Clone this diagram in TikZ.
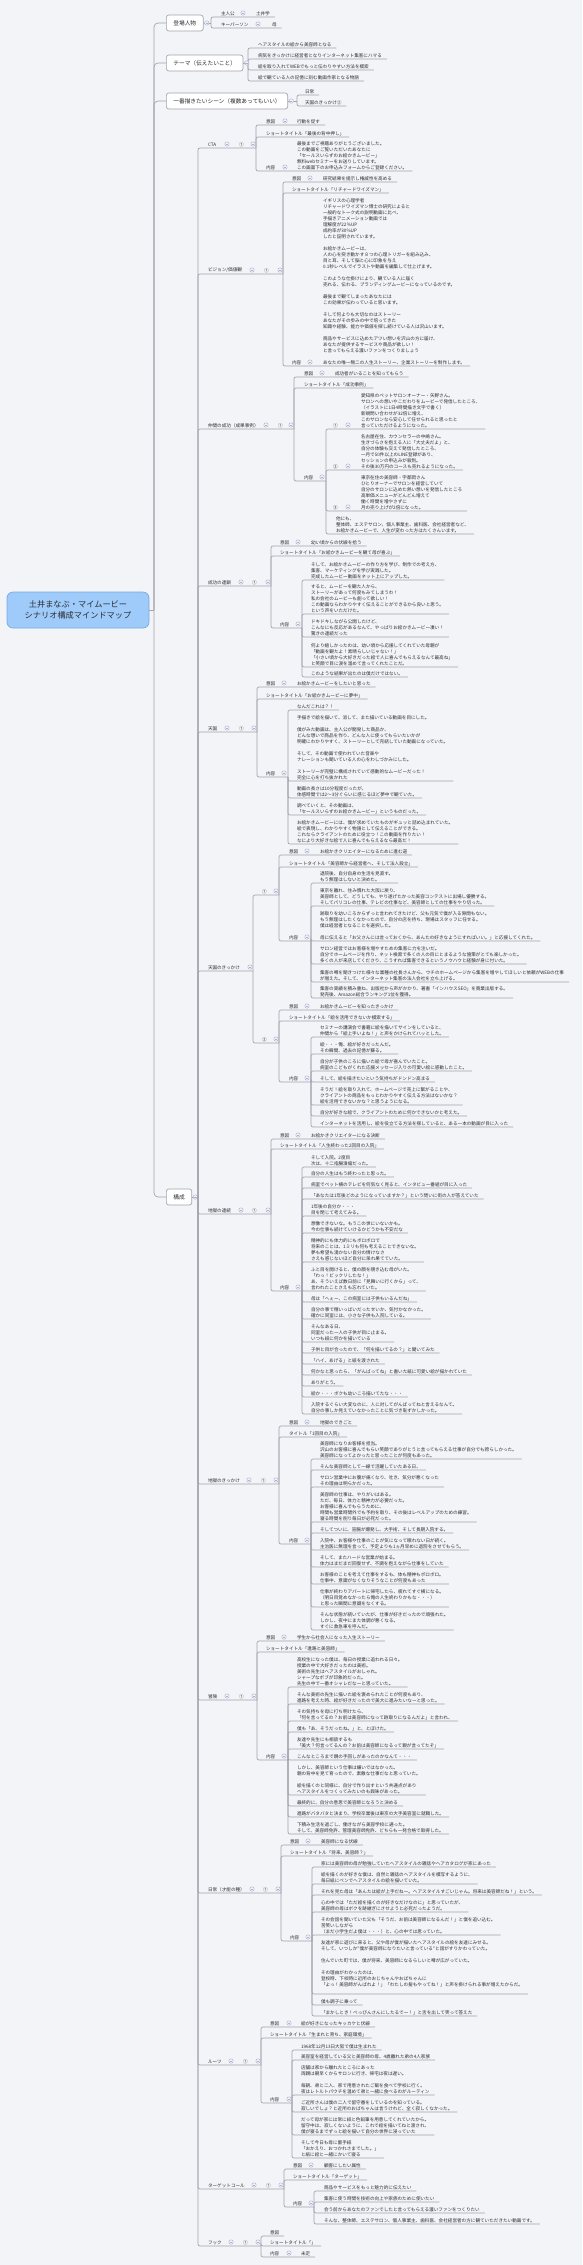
\documentclass[tikz,border=0pt]{standalone}
\usepackage{fontspec}
\setmainfont{Noto Sans CJK JP}
\usetikzlibrary{positioning}
\definecolor{bgc}{RGB}{243,244,248}
\definecolor{linec}{RGB}{163,164,174}
\definecolor{rootc}{RGB}{158,203,250}
\definecolor{rootb}{RGB}{120,168,222}
\definecolor{foldc}{RGB}{168,180,208}
\definecolor{textc}{RGB}{45,45,50}

\begin{document}
\begin{tikzpicture}[x=1pt, y=-1pt,
    txt/.style={font=\fontsize{4.6}{6}\selectfont, text=textc, inner sep=0pt, outer xsep=5pt, outer ysep=1.5pt, anchor=south west, xshift=-5pt, align=left},
    box/.style={draw=linec, fill=white, rounded corners=2.5pt, line width=0.7pt, font=\fontsize{5.7}{7}\selectfont, text=textc, inner xsep=7pt, inner ysep=0pt, minimum height=16pt, anchor=west},
    root/.style={draw=rootb, fill=rootc, rounded corners=6pt, line width=0.7pt, font=\fontsize{8.2}{11}\selectfont, text=textc, align=center, minimum width=142pt, minimum height=36pt},
    link/.style={draw=linec, line width=0.7pt, rounded corners=2pt},
    fold/.style={circle, draw=foldc, fill=bgc, line width=0.45pt, minimum size=4.4pt, inner sep=0pt, path picture={\draw[foldc, line width=0.45pt] ([xshift=-1.2pt]path picture bounding box.center) -- ([xshift=1.2pt]path picture bounding box.center);}},
    lfold/.style={fold, yshift=4pt}]
    \useasboundingbox (0,0) rectangle (582,2265);
    \fill[bgc] (0,0) rectangle (582,2265);

    % Root and first level
    \node[root] (root) at (78,610) {土井まなぶ・マイムービー\\シナリオ構成マインドマップ};
    \node[box] (cast) at (166,23) {登場人物};
    \node[box] (theme) at (166,63) {テーマ（伝えたいこと）};
    \node[box] (scene) at (166,101) {一番描きたいシーン（複数あってもいい）};
    \node[box] (kosei) at (166,1197) {構成};
    \coordinate (hub) at (154,610);
    \draw[link] (root.east) -- (hub);
    \foreach \x in {cast,theme,scene,kosei} \draw[link, rounded corners=4pt] (hub) |- (\x.west);

    % 登場人物
    \node[txt] (hero) at (221,17) {主人公};
    \node[txt] (doi) at (256,17) {土井学};
    \node[txt] (key) at (221,28) {キーパーソン};
    \node[txt] (mother) at (272,28) {母};
    \coordinate (jcast) at (211,23);
    \draw[link] (cast.east) -- (jcast);
    \foreach \x in {doi,mother} \draw[link] (jcast) |- (\x.south east);
    \node[fold, right=0.8pt of cast] (cast-f) {};
    \node[lfold] (hero-f) at (243,17) {};
    \node[lfold] (key-f) at (258,28) {};

    % テーマ
    \node[txt] (t1) at (258,48) {ヘアスタイルの絵から美容師となる};
    \node[txt] (t2) at (258,59) {病気をきっかけに経営者となりインターネット集客にハマる};
    \node[txt] (t3) at (258,70) {絵を取り入れてWEBでもっと伝わりやすい方法を模索};
    \node[txt] (t4) at (258,81) {絵で観ている人の記憶に刻む動画作家となる物語};
    \coordinate (jtheme) at (248,63);
    \draw[link] (theme.east) -- (jtheme);
    \foreach \x in {t1,t2,t3,t4} \draw[link] (jtheme) |- (\x.south east);
    \node[fold, right=0.8pt of theme] (theme-f) {};

    % 一番描きたいシーン
    \node[txt] (s1) at (305,95) {日常};
    \node[txt] (s2) at (305,106) {天国のきっかけ②};
    \coordinate (jscene) at (297,101);
    \draw[link] (scene.east) -- (jscene);
    \foreach \x in {s1,s2} \draw[link] (jscene) |- (\x.south east);
    \node[fold, right=0.8pt of scene] (scene-f) {};

    % 構成
    \coordinate (jk) at (198,1197);
    \draw[link] (kosei.east) -- (jk);
    \node[fold, right=0.8pt of kosei] (kosei-f) {};

    % CTA
    \node[txt] (cta) at (208,148) {CTA};
    \node[txt] (cta-n) at (239,148) {①};
    \node[txt] (cta-i) at (266,125) {意図};
    \node[txt] (cta-iv) at (297,125) {行動を促す};
    \node[txt] (cta-s) at (266,137) {ショートタイトル「最後の背中押し」};
    \node[txt] (cta-c) at (266,171) {内容};
    \node[txt] (cta-cv) at (297,171) {最後までご視聴ありがとうございました。\\この動画をご覧いただいたあなたに\\「セールスいらずのお絵かきムービー」\\無料webセミナーをお送りしています。\\この画面下のお申込みフォームからご登録ください。};
    \coordinate (jcta) at (256,148);
    \draw[link] (jk) |- (jcta);
    \foreach \x in {cta-iv,cta-s,cta-cv} \draw[link] (jcta) |- (\x.south east);
    \node[lfold] (cta-f1) at (227,148) {};
    \node[lfold] (cta-f2) at (253,148) {};
    \node[lfold] (cta-f3) at (285,125) {};
    \node[lfold] (cta-f4) at (285,171) {};

    % ビジョン/価値観
    \node[txt] (vis) at (208,274) {ビジョン/価値観};
    \node[txt] (vis-n) at (264,274) {①};
    \node[txt] (vis-i) at (292,182) {意図};
    \node[txt] (vis-iv) at (323,182) {研究結果を提示し権威性を高める};
    \node[txt] (vis-s) at (292,193) {ショートタイトル「リチャードワイズマン」};
    \node[txt] (vis-c) at (292,366) {内容};
    \node[txt] (vis-cv) at (323,366) {イギリスの心理学者\\リチャードワイズマン博士の研究によると\\一般的なトーク式の説明動画に比べ、\\手描きアニメーション動画では\\理解度が22％UP\\成約率が30\%UP\\したと証明されています。\\[6pt]お絵かきムービーは、\\人の心を突き動かす８つの心理トリガーを組み込み、\\目と耳、そして脳と心に印象を与え\\0.1秒レベルでイラストや動画を編集して仕上げます。\\[6pt]このような仕掛けにより、観ている人に届く\\売れる、伝わる、ブランディングムービーになっているのです。\\[6pt]最後まで観てしまったあなたには\\この効果が伝わっていると思います。\\[6pt]そして何よりも大切なのはストーリー\\あなたがその歩みの中で培ってきた\\知識や経験、能力や価値を探し続けている人は沢山います。\\[6pt]商品やサービスに込めたアツい想いを沢山の方に届け、\\あなたが提供するサービスや商品が欲しい！\\と言ってもらえる濃いファンをつくりましょう\\[6pt]あなたの唯一無二の人生ストーリー、企業ストーリーを制作します。};
    \coordinate (jvis) at (283,274);
    \draw[link] (jk) |- (jvis);
    \foreach \x in {vis-iv,vis-s,vis-cv} \draw[link] (jvis) |- (\x.south east);
    \node[lfold] (vis-f1) at (252,274) {};
    \node[lfold] (vis-f2) at (280,274) {};
    \node[lfold] (vis-f3) at (310,182) {};
    \node[lfold] (vis-f4) at (310,366) {};

    % 仲間の成功
    \node[txt] (peer) at (208,429) {仲間の成功（成果事例）};
    \node[txt] (peer-n) at (278,429) {①};
    \node[txt] (peer-i) at (304,377) {意図};
    \node[txt] (peer-iv) at (335,377) {成功者がいることを知ってもらう};
    \node[txt] (peer-s) at (304,388) {ショートタイトル「成功事例」};
    \node[txt] (peer-c) at (304,481) {内容};
    \node[txt] (peer-1) at (333,429) {①};
    \node[txt] (peer-1v) at (361,429) {愛知県のペットサロンオーナー・矢野さん。\\サロンへの想いやこだわりをムービーで発信したところ、\\（イラストに1日4時間描き文字で書く）\\新規問い合わせが32倍に増え、\\このサロンなら安心して任せられると思ったと\\言っていただけるようになった。};
    \node[txt] (peer-2) at (333,470) {②};
    \node[txt] (peer-2v) at (361,470) {名古屋在住、カウンセラーの中嶋さん。\\生きづらさを抱える人に「大丈夫だよ」と、\\自分の体験も交えて発信したところ、\\一月で50件以上のLINE登録があり、\\セッションの申込みが殺到。\\その後30万円のコースも売れるようになった。};
    \node[txt] (peer-3) at (333,511) {③};
    \node[txt] (peer-3v) at (361,511) {東京在住の美容師・宇都岡さん\\ひとりオーナーでサロンを経営していて\\自分のサロンに込めた熱い想いを発信したところ\\高単価メニューがどんどん増えて\\働く時間を増やさずに\\月の売り上げが2倍になった。};
    \node[txt] (peer-4) at (336,534) {他にも、\\整体師、エステサロン、個人事業主、歯科医、会社経営者など、\\お絵かきムービーで、人生が変わった方はたくさんいます。};
    \coordinate (jpeer) at (294,429);
    \coordinate (jpeerc) at (326,481);
    \draw[link] (jk) |- (jpeer);
    \foreach \x in {peer-iv,peer-s} \draw[link] (jpeer) |- (\x.south east);
    \draw[link] (jpeer) |- (jpeerc);
    \foreach \x in {peer-1v,peer-2v,peer-3v,peer-4} \draw[link] (jpeerc) |- (\x.south east);
    \node[lfold] (peer-f1) at (266,429) {};
    \node[lfold] (peer-f2) at (291,429) {};
    \node[lfold] (peer-f3) at (322,377) {};
    \node[lfold] (peer-f4) at (322,481) {};
    \node[lfold] (peer-f5) at (348,429) {};
    \node[lfold] (peer-f6) at (348,470) {};
    \node[lfold] (peer-f7) at (348,511) {};

    % 成功の連鎖
    \node[txt] (chain) at (208,586) {成功の連鎖};
    \node[txt] (chain-n) at (252,586) {①};
    \node[txt] (chain-i) at (280,546) {意図};
    \node[txt] (chain-iv) at (311,546) {幼い頃からの伏線を拾う};
    \node[txt] (chain-s) at (280,556) {ショートタイトル「お絵かきムービーを観て母が喜ぶ」};
    \node[txt] (chain-c) at (280,628) {内容};
    \node[txt] (chain-1) at (311,580) {そして、お絵かきムービーの作り方を学び、制作での考え方、\\集客、マーケティングを学び実践した。\\完成したムービー動画をネット上にアップした。};
    \node[txt] (chain-2) at (311,614) {すると、ムービーを観た人から、\\ストーリーがあって何度もみてしまうわ！\\私の会社のムービーも創って欲しい！\\この動画ならわかりやすく伝えることができるから良いと思う。\\という声をいただけた。};
    \node[txt] (chain-3) at (311,637) {ドキドキしながら公開したけど、\\こんなにも反応があるなんて、やっぱりお絵かきムービー凄い！\\驚きの連続だった};
    \node[txt] (chain-4) at (311,667) {何より嬉しかったのは、幼い頃から応援してくれていた母親が\\「動画を観たよ！素晴らしいじゃない！」\\「小さい頃から大好きだった絵で人に喜んでもらえるなんて最高ね」\\と笑顔で目に涙を溜めて言ってくれたことだ。};
    \node[txt] (chain-5) at (311,677) {このような結果が出たのは僕だけではない。};
    \coordinate (jchain) at (271,586);
    \coordinate (jchainc) at (302,628);
    \draw[link] (jk) |- (jchain);
    \foreach \x in {chain-iv,chain-s} \draw[link] (jchain) |- (\x.south east);
    \draw[link] (jchain) |- (jchainc);
    \foreach \x in {chain-1,chain-2,chain-3,chain-4,chain-5} \draw[link] (jchainc) |- (\x.south east);
    \node[lfold] (chain-f1) at (241,586) {};
    \node[lfold] (chain-f2) at (268,586) {};
    \node[lfold] (chain-f3) at (298,546) {};
    \node[lfold] (chain-f4) at (298,628) {};

    % 天国
    \node[txt] (heaven) at (208,732) {天国};
    \node[txt] (hv-n) at (239,732) {①};
    \node[txt] (hv-i) at (266,687) {意図};
    \node[txt] (hv-iv) at (297,687) {お絵かきムービーをしたいと思った};
    \node[txt] (hv-s) at (266,699) {ショートタイトル「お絵かきムービーに夢中」};
    \node[txt] (hv-c) at (266,777) {内容};
    \node[txt] (hv-1) at (297,710) {なんだこれは？！};
    \node[txt] (hv-2) at (297,781) {手描きで絵を描いて、消して、また描いている動画を目にした。\\[6pt]僕がみた動画は、主人公が開発した商品か、\\どんな想いで商品を作り、どんな人に使ってもらいたいかが\\明確にわかりやすく、ストーリーとして完結していた動画になっていた。\\[6pt]そして、その動画で使われていた音楽や\\ナレーションも聞いている人の心をわしづかみにした。\\[6pt]ストーリーが完璧に構成されていて感動的なムービーだった！\\完全に心を打ち抜かれた};
    \node[txt] (hv-3) at (297,798) {動画の長さは10分程度だったが、\\体感時間では2〜3分ぐらいに感じるほど夢中で観ていた。};
    \node[txt] (hv-4) at (297,815) {調べていくと、その動画は、\\「セールスいらずのお絵かきムービー」というものだった。};
    \node[txt] (hv-5) at (297,844) {お絵かきムービーには、僕が求めていたものがギュッと詰め込まれていた。\\絵で表現し、わかりやすく物語として伝えることができる。\\これならクライアントのために役立つ！この動画を作りたい！\\なにより大好きな絵で人に喜んでもらえるなら最高だ！};
    \coordinate (jheaven) at (257,732);
    \coordinate (jhvc) at (288,777);
    \draw[link] (jk) |- (jheaven);
    \foreach \x in {hv-iv,hv-s} \draw[link] (jheaven) |- (\x.south east);
    \draw[link] (jheaven) |- (jhvc);
    \foreach \x in {hv-1,hv-2,hv-3,hv-4,hv-5} \draw[link] (jhvc) |- (\x.south east);
    \node[lfold] (hv-f1) at (227,732) {};
    \node[lfold] (hv-f2) at (254,732) {};
    \node[lfold] (hv-f3) at (284,687) {};
    \node[lfold] (hv-f4) at (284,777) {};

    % 天国のきっかけ
    \node[txt] (hvk) at (208,971) {天国のきっかけ};
    \node[txt] (hvk1) at (262,895) {①};
    \node[txt] (hvk1-i) at (289,855) {意図};
    \node[txt] (hvk1-iv) at (320,855) {お絵かきクリエイターになるために進む道};
    \node[txt] (hvk1-s) at (289,867) {ショートタイトル「美容師から経営者へ、そして法人設立」};
    \node[txt] (hvk1-c) at (289,941) {内容};
    \node[txt] (hvk1-1) at (320,883) {退院後、自分自身の生活を見直す。\\もう無理はしないと決めた。};
    \node[txt] (hvk1-2) at (320,906) {東京を離れ、住み慣れた大阪に戻り、\\美容師として、どうしても、やり遂げたかった美容コンテストに出場し優勝する。\\そしてパリコレの仕事、テレビの仕事など、美容師としての仕事をやり切った。};
    \node[txt] (hvk1-3) at (320,941) {跡取りを幼いころからずっと言われてきたけど、父も元気で僕が入る隙間もない。\\もう無理はしたくなかったので、自分の店を持ち、現場はスタッフに任せる。\\僕は経営者となることを選択した。\\[6pt]母に伝えると「お父さんには言っておくから、あんたの好きなようにすればいい。」と応援してくれた。};
    \node[txt] (hvk1-4) at (320,964) {サロン経営ではお客様を増やすための集客に力を注いだ。\\自分でホームページを作り、ネット検索で多くの人の目にとまるような施策がとても楽しかった。\\多くの人が来店してくださり、こうすれば集客できるというノウハウと経験が身に付いた。};
    \node[txt] (hvk1-5) at (320,982) {集客の噂を聞きつけた様々な業種の社長さんから、ウチのホームページから集客を増やしてほしいと依頼がWEBの仕事\\が増えた。そして、インターネット集客の法人会社を立ち上げる。};
    \node[txt] (hvk1-6) at (320,998) {集客の実績を積み重ね、出版社から声がかかり、著書「インハウスSEO」を商業出版する。\\発売後、Amazon総合ランキング1位を獲得。};
    \node[txt] (hvk2) at (262,1043) {②};
    \node[txt] (hvk2-i) at (289,1010) {意図};
    \node[txt] (hvk2-iv) at (320,1010) {お絵かきムービーを知ったきっかけ};
    \node[txt] (hvk2-s) at (289,1021) {ショートタイトル「絵を活用できないか模索する」};
    \node[txt] (hvk2-c) at (289,1082) {内容};
    \node[txt] (hvk2-1) at (320,1037) {セミナーの講演会で書籍に絵を描いてサインをしていると、\\仲間から「絵上手いよね！」と声をかけられてハッとした。};
    \node[txt] (hvk2-2) at (320,1054) {絵・・・俺、絵が好きだったんだ。\\その瞬間、過去の記憶が蘇る。};
    \node[txt] (hvk2-3) at (320,1071) {自分が子供のころに描いた絵で母が喜んでいたこと。\\病室のこどもがくれた応援メッセージ入りの可愛い絵に感動したこと。};
    \node[txt] (hvk2-4) at (320,1082) {そして、絵を描きたいという気持ちがドンドン高まる};
    \node[txt] (hvk2-5) at (320,1105) {そうだ！絵を取り入れて、ホームページで売上に繋がることや、\\クライアントの商品をもっとわかりやすく伝える方法はないかな？\\絵を活用できないかな？と思うようになる。};
    \node[txt] (hvk2-6) at (320,1116) {自分が好きな絵で、クライアントのために何かできないかと考えた。};
    \node[txt] (hvk2-7) at (320,1127) {インターネットを活用し、絵を役立てる方法を探していると、ある一本の動画が目に入った};
    \coordinate (jhvk) at (253,971);
    \coordinate (jhvk1) at (279,895);
    \coordinate (jhvk1c) at (311,941);
    \coordinate (jhvk2) at (279,1043);
    \coordinate (jhvk2c) at (311,1082);
    \draw[link] (jk) |- (jhvk);
    \draw[link] (jhvk) |- (jhvk1);
    \draw[link] (jhvk) |- (jhvk2);
    \foreach \x in {hvk1-iv,hvk1-s} \draw[link] (jhvk1) |- (\x.south east);
    \draw[link] (jhvk1) |- (jhvk1c);
    \foreach \x in {hvk1-1,hvk1-2,hvk1-3,hvk1-4,hvk1-5,hvk1-6} \draw[link] (jhvk1c) |- (\x.south east);
    \foreach \x in {hvk2-iv,hvk2-s} \draw[link] (jhvk2) |- (\x.south east);
    \draw[link] (jhvk2) |- (jhvk2c);
    \foreach \x in {hvk2-1,hvk2-2,hvk2-3,hvk2-4,hvk2-5,hvk2-6,hvk2-7} \draw[link] (jhvk2c) |- (\x.south east);
    \node[lfold] (hvk-f1) at (250,971) {};
    \node[lfold] (hvk-f2) at (276,895) {};
    \node[lfold] (hvk-f3) at (307,855) {};
    \node[lfold] (hvk-f4) at (307,941) {};
    \node[lfold] (hvk-f5) at (276,1043) {};
    \node[lfold] (hvk-f6) at (307,1010) {};
    \node[lfold] (hvk-f7) at (307,1082) {};

    % 地獄の連続
    \node[txt] (hell) at (208,1214) {地獄の連続};
    \node[txt] (hl-n) at (252,1214) {①};
    \node[txt] (hl-i) at (280,1139) {意図};
    \node[txt] (hl-iv) at (311,1139) {お絵かきクリエイターになる決断};
    \node[txt] (hl-s) at (280,1149) {ショートタイトル「人生終わった2回目の入院」};
    \node[txt] (hl-c) at (280,1291) {内容};
    \node[txt] (hl-1) at (311,1167) {そして入院。2度目\\次は、十二指腸潰瘍だった。};
    \node[txt] (hl-2) at (311,1177) {自分の人生はもう終わったと思った。};
    \node[txt] (hl-3) at (311,1188) {病室でベット横のテレビを何気なく見ると、インタビュー番組が目に入った};
    \node[txt] (hl-4) at (311,1199) {「あなたは1年後どのようになっていますか？」という問いに街の人が答えていた};
    \node[txt] (hl-5) at (311,1216) {1年後の自分か・・・\\目を閉じて考えてみる。};
    \node[txt] (hl-6) at (311,1233) {想像できないな。もうこの世にいないかも。\\今の仕事も続けていけるかどうかも不安だな};
    \node[txt] (hl-7) at (311,1262) {精神的にも体力的にもボロボロで\\将来のことは、1ミリも何も考えることできないな。\\夢も希望も湧かない自分の情けなさ\\さえも感じないほど自分に呆れ果てていた。};
    \node[txt] (hl-8) at (311,1291) {ふと目を開けると、僕の顔を覗き込む母がいた。\\「わっ！ビックリしたな！」\\あ、そういえば数日前に「見舞いに行くから」って、\\言われたことさえも忘れていた。};
    \node[txt] (hl-9) at (311,1302) {母は「へぇー、この病室には子供もいるんだね」};
    \node[txt] (hl-10) at (311,1319) {自分の事で精いっぱいだったせいか、気付かなかった。\\確かに同室には、小さな子供も入院している。};
    \node[txt] (hl-11) at (311,1342) {そんなある日、\\同室だった一人の子供が目に止まる。\\いつも紙に何かを描いている};
    \node[txt] (hl-12) at (311,1353) {子供と目が合ったので、「何を描いてるの？」と聞いてみた};
    \node[txt] (hl-13) at (311,1364) {「ハイ、あげる」と紙を渡された};
    \node[txt] (hl-14) at (311,1375) {何かなと思ったら、「がんばってね」と書いた紙に可愛い絵が描かれていた};
    \node[txt] (hl-15) at (311,1386) {ありがとう。};
    \node[txt] (hl-16) at (311,1397) {絵か・・・ボクも幼いころ描いてたな・・・};
    \node[txt] (hl-17) at (311,1414) {入院するぐらい大変なのに、人に対してがんばってねと言えるなんて。\\自分の事しか見えていなかったことに気づき恥ずかしかった。};
    \coordinate (jhell) at (271,1214);
    \coordinate (jhlc) at (302,1291);
    \draw[link] (jk) |- (jhell);
    \foreach \x in {hl-iv,hl-s} \draw[link] (jhell) |- (\x.south east);
    \draw[link] (jhell) |- (jhlc);
    \foreach \x in {hl-1,hl-2,hl-3,hl-4,hl-5,hl-6,hl-7,hl-8,hl-9,hl-10,hl-11,hl-12,hl-13,hl-14,hl-15,hl-16,hl-17} \draw[link] (jhlc) |- (\x.south east);
    \node[lfold] (hl-f1) at (241,1214) {};
    \node[lfold] (hl-f2) at (268,1214) {};
    \node[lfold] (hl-f3) at (298,1139) {};
    \node[lfold] (hl-f4) at (298,1291) {};

    % 地獄のきっかけ
    \node[txt] (hellk) at (208,1484) {地獄のきっかけ};
    \node[txt] (hlk-n) at (261,1484) {①};
    \node[txt] (hlk-i) at (289,1426) {意図};
    \node[txt] (hlk-iv) at (320,1426) {地獄のできごと};
    \node[txt] (hlk-s) at (289,1437) {タイトル「1回目の入院」};
    \node[txt] (hlk-c) at (289,1544) {内容};
    \node[txt] (hlk-1) at (320,1459) {美容師になりお客様を担当。\\沢山のお客様に喜んでもらい笑顔でありがとうと言ってもらえる仕事が自分でも誇らしかった。\\美容師になってよかったと思ったことが何度もあった。};
    \node[txt] (hlk-2) at (320,1470) {そんな美容師として一線で活躍していたある日、};
    \node[txt] (hlk-3) at (320,1487) {サロン営業中にお腹が痛くなり、吐き、気分が悪くなった\\その理由は明らかだった。};
    \node[txt] (hlk-4) at (320,1522) {美容師の仕事は、やりがいはある。\\ただ、毎日、体力と精神力が必要だった。\\お客様に喜んでもらうために、\\時間も営業時間外でも予約を取り、その後はレベルアップのための練習。\\寝る時間を削り毎日が必死だった。};
    \node[txt] (hlk-5) at (320,1533) {そしてついに、盲腸が爆発し、大手術、そして長期入院する。};
    \node[txt] (hlk-6) at (320,1550) {入院中、お客様や仕事のことが気になって眠れない日が続く。\\主治医に無理を言って、予定よりも1ヵ月早めに退院をさせてもらう。};
    \node[txt] (hlk-7) at (320,1567) {そして、またハードな営業が始まる。\\体力はまだまだ回復せず、不調を抱えながら仕事をしていた};
    \node[txt] (hlk-8) at (320,1584) {お客様のことを考えて仕事をするも、体も精神もボロボロ。\\仕事中、意識がなくなりそうなことが何度もあった};
    \node[txt] (hlk-9) at (320,1607) {仕事が終わりアパートに帰宅したら、疲れてすぐ横になる。\\（明日目覚めなかったら俺の人生終わりかもな・・・）\\と思った瞬間に意識をなくする。};
    \node[txt] (hlk-10) at (320,1630) {そんな状態が続いていたが、仕事が好きだったので頑張れた。\\しかし、夜中にまた体調が悪くなる。\\すぐに救急車を呼んだ。};
    \coordinate (jhellk) at (279,1484);
    \coordinate (jhlkc) at (311,1544);
    \draw[link] (jk) |- (jhellk);
    \foreach \x in {hlk-iv,hlk-s} \draw[link] (jhellk) |- (\x.south east);
    \draw[link] (jhellk) |- (jhlkc);
    \foreach \x in {hlk-1,hlk-2,hlk-3,hlk-4,hlk-5,hlk-6,hlk-7,hlk-8,hlk-9,hlk-10} \draw[link] (jhlkc) |- (\x.south east);
    \node[lfold] (hlk-f1) at (249,1484) {};
    \node[lfold] (hlk-f2) at (276,1484) {};
    \node[lfold] (hlk-f3) at (307,1426) {};
    \node[lfold] (hlk-f4) at (307,1544) {};

    % 冒険
    \node[txt] (adv) at (208,1700) {冒険};
    \node[txt] (adv-n) at (239,1700) {①};
    \node[txt] (adv-i) at (266,1641) {意図};
    \node[txt] (adv-iv) at (297,1641) {学生から社会人になった人生ストーリー};
    \node[txt] (adv-s) at (266,1652) {ショートタイトル「進路と美容師」};
    \node[txt] (adv-c) at (266,1760) {内容};
    \node[txt] (adv-1) at (297,1687) {高校生になった僕は、毎日の授業に追われる日々。\\授業の中で大好きだったのは美術。\\美術の先生はヘアスタイルがおしゃれ。\\シャープなボブが印象的だった。\\先生の中で一番オシャレだなーと思っていた。};
    \node[txt] (adv-2) at (297,1704) {そんな美術の先生に描いた絵を褒められたことが何度もあり、\\進路を考えた時、絵が好きだったので美大に進みたいなーと思った。};
    \node[txt] (adv-3) at (297,1721) {その気持ちを母に打ち明けたら、\\「何を言ってるの？お前は美容師になって跡取りになるんだよ」と言われ、};
    \node[txt] (adv-4) at (297,1732) {僕も「あ、そうだったね。」と、とぼけた。};
    \node[txt] (adv-5) at (297,1749) {友達や先生にも相談するも\\「美大？何言ってるんの？お前は美容師になるって親が言ってたぞ」};
    \node[txt] (adv-6) at (297,1760) {こんなところまで親の手回しがあったのかなんて・・・};
    \node[txt] (adv-7) at (297,1795) {しかし、美容師という仕事は嫌いではなかった。\\親の背中を見て育ったので、素敵な仕事だなと思っていた。\\[6pt]絵を描くのと同様に、自分で作り出すという共通点があり\\ヘアスタイルをつくってみたいのも興味があった。};
    \node[txt] (adv-8) at (297,1806) {最終的に、自分の意思で美容師になろうと決める};
    \node[txt] (adv-9) at (297,1817) {進路がバタバタと決まり、学校卒業後は東京の大手美容室に就職した。};
    \node[txt] (adv-10) at (297,1834) {下積み生活を過ごし、働きながら美容学校に通った。\\そして、美容師免許、管理美容師免許、どちらも一発合格で取得した。};
    \coordinate (jadv) at (257,1700);
    \coordinate (jadvc) at (288,1760);
    \draw[link] (jk) |- (jadv);
    \foreach \x in {adv-iv,adv-s} \draw[link] (jadv) |- (\x.south east);
    \draw[link] (jadv) |- (jadvc);
    \foreach \x in {adv-1,adv-2,adv-3,adv-4,adv-5,adv-6,adv-7,adv-8,adv-9,adv-10} \draw[link] (jadvc) |- (\x.south east);
    \node[lfold] (adv-f1) at (227,1700) {};
    \node[lfold] (adv-f2) at (254,1700) {};
    \node[lfold] (adv-f3) at (284,1641) {};
    \node[lfold] (adv-f4) at (284,1760) {};

    % 日常（才能の種）
    \node[txt] (daily) at (208,1893) {日常（才能の種）};
    \node[txt] (dl-n) at (263,1893) {①};
    \node[txt] (dl-i) at (290,1845) {意図};
    \node[txt] (dl-iv) at (321,1845) {美容師になる伏線};
    \node[txt] (dl-s) at (290,1856) {ショートタイトル「将来、美容師？」};
    \node[txt] (dl-c) at (290,1941) {内容};
    \node[txt] (dl-1) at (321,1867) {家には美容師の母が勉強していたヘアスタイルの雑誌やヘアカタログが家にあった};
    \node[txt] (dl-2) at (321,1884) {絵を描くのが好きな僕は、自然と雑誌のヘアスタイルを模写するように、\\毎日紙にペンでヘアスタイルの絵を描いていた。};
    \node[txt] (dl-3) at (321,1895) {それを見た母は「あんたは絵が上手だねー。ヘアスタイルすごいじゃん。将来は美容師だね！」という。};
    \node[txt] (dl-4) at (321,1912) {心の中では「ただ絵を描くのが好きなだけなのに」と思っていたが、\\美容師の母はボクを跡継ぎにさせようと必死だったようだ。};
    \node[txt] (dl-5) at (321,1935) {その会話を聞いていた父も「そうだ、お前は美容師になるんだ！」と僕を追い込む。\\苦笑いしながら\\（まだ小学生だよ僕は・・・）と、心の中では思っていた。};
    \node[txt] (dl-6) at (321,1994) {友達が家に遊びに来ると、父や母が僕が描いたヘアスタイルの絵を友達にみせる。\\そして、いつしか“僕が美容師になりたいと言っている”と話がすりかわっていた。\\[6pt]住んでいた町では、僕が将来、美容師になるらしいと噂が広がっていた。\\[6pt]その理由がわかったのは、\\登校時、下校時に近所のおじちゃんやおばちゃんに\\「よっ！美容師がんばれよ！」「わたしの髪もやってね！」と声を掛けられる事が増えたからだ。\\ \mbox{}};
    \node[txt] (dl-7) at (321,2005) {僕も調子に乗って};
    \node[txt] (dl-8) at (321,2016) {「まかしとき！べっぴんさんにしたるでー！」と舌を出して笑って答えた};
    \coordinate (jdaily) at (281,1893);
    \coordinate (jdlc) at (312,1941);
    \draw[link] (jk) |- (jdaily);
    \foreach \x in {dl-iv,dl-s} \draw[link] (jdaily) |- (\x.south east);
    \draw[link] (jdaily) |- (jdlc);
    \foreach \x in {dl-1,dl-2,dl-3,dl-4,dl-5,dl-6,dl-7,dl-8} \draw[link] (jdlc) |- (\x.south east);
    \node[lfold] (dl-f1) at (252,1893) {};
    \node[lfold] (dl-f2) at (278,1893) {};
    \node[lfold] (dl-f3) at (308,1845) {};
    \node[lfold] (dl-f4) at (308,1941) {};

    % ルーツ
    \node[txt] (roots) at (208,2065) {ルーツ};
    \node[txt] (rt-n) at (243,2065) {①};
    \node[txt] (rt-i) at (270,2027) {意図};
    \node[txt] (rt-iv) at (301,2027) {絵が好きになったキッカケと伏線};
    \node[txt] (rt-s) at (270,2038) {ショートタイトル「生まれと育ち、家庭環境」};
    \node[txt] (rt-c) at (270,2103) {内容};
    \node[txt] (rt-1) at (301,2050) {1968年12月13日大阪で僕は生まれた};
    \node[txt] (rt-2) at (301,2060) {美容室を経営している父と美容師の母、4歳離れた弟の4人家族};
    \node[txt] (rt-3) at (301,2095) {店舗は家から離れたところにあった\\両親は朝早くからサロンに行き、帰宅は夜は遅い。\\[6pt]毎朝、弟と二人、家で用意されたご飯を食べて学校に行く。\\夜はレトルトパウチを温めて弟と一緒に食べるのがルーティン};
    \node[txt] (rt-4) at (301,2112) {ご近所さんは僕の二人で留守番をしているのを知っている。\\寂しいでしょ？と近所のおばちゃんは言うけれど、全く寂しくなかった。};
    \node[txt] (rt-5) at (301,2135) {だって母が家には常に紙と色鉛筆を用意してくれていたから。\\留守中は、寂しくないように、これで絵を描いてねと渡され、\\僕が寝るまでずっと絵を描いて自分の世界に浸っていた};
    \node[txt] (rt-6) at (301,2158) {そして今日も母に置手紙\\「おかえり、おつかれさまでした。」\\と紙に絵と一緒にかいて寝る};
    \coordinate (jroots) at (261,2065);
    \coordinate (jrtc) at (292,2103);
    \draw[link] (jk) |- (jroots);
    \foreach \x in {rt-iv,rt-s} \draw[link] (jroots) |- (\x.south east);
    \draw[link] (jroots) |- (jrtc);
    \foreach \x in {rt-1,rt-2,rt-3,rt-4,rt-5,rt-6} \draw[link] (jrtc) |- (\x.south east);
    \node[lfold] (rt-f1) at (231,2065) {};
    \node[lfold] (rt-f2) at (258,2065) {};
    \node[lfold] (rt-f3) at (289,2027) {};
    \node[lfold] (rt-f4) at (289,2103) {};

    % ターゲットコール
    \node[txt] (target) at (208,2189) {ターゲットコール};
    \node[txt] (tg-n) at (266,2189) {①};
    \node[txt] (tg-i) at (293,2169) {意図};
    \node[txt] (tg-iv) at (324,2169) {顧客にしたい属性};
    \node[txt] (tg-s) at (293,2180) {ショートタイトル「ターゲット」};
    \node[txt] (tg-c) at (293,2207) {内容};
    \node[txt] (tg-1) at (324,2191) {商品やサービスをもっと魅力的に伝えたい};
    \node[txt] (tg-2) at (324,2202) {集客に使う時間を技術の向上や家族のために使いたい};
    \node[txt] (tg-3) at (324,2213) {会う前からあなたのファンでしたと言ってもらえる濃いファンをつくりたい};
    \node[txt] (tg-4) at (324,2224) {そんな、整体師、エステサロン、個人事業主、歯科医、会社経営者の方に観ていただきたい動画です。};
    \coordinate (jtarget) at (284,2189);
    \coordinate (jtgc) at (314,2207);
    \draw[link] (jk) |- (jtarget);
    \foreach \x in {tg-iv,tg-s} \draw[link] (jtarget) |- (\x.south east);
    \draw[link] (jtarget) |- (jtgc);
    \foreach \x in {tg-1,tg-2,tg-3,tg-4} \draw[link] (jtgc) |- (\x.south east);
    \node[lfold] (tg-f1) at (254,2189) {};
    \node[lfold] (tg-f2) at (281,2189) {};
    \node[lfold] (tg-f3) at (311,2169) {};
    \node[lfold] (tg-f4) at (311,2207) {};

    % フック
    \node[txt] (hook) at (208,2246) {フック};
    \node[txt] (hook-n) at (243,2246) {①};
    \node[txt] (hook-i) at (270,2236) {意図};
    \node[txt] (hook-s) at (270,2246) {ショートタイトル「」};
    \node[txt] (hook-c) at (270,2257) {内容};
    \node[txt] (hook-cv) at (301,2257) {未定};
    \coordinate (jhook) at (261,2246);
    \draw[link] (jk) |- (jhook);
    \foreach \x in {hook-i,hook-s,hook-cv} \draw[link] (jhook) |- (\x.south east);
    \node[lfold] (hook-f1) at (231,2246) {};
    \node[lfold] (hook-f2) at (258,2246) {};
    \node[lfold] (hook-f3) at (289,2257) {};
\end{tikzpicture}
\end{document}
